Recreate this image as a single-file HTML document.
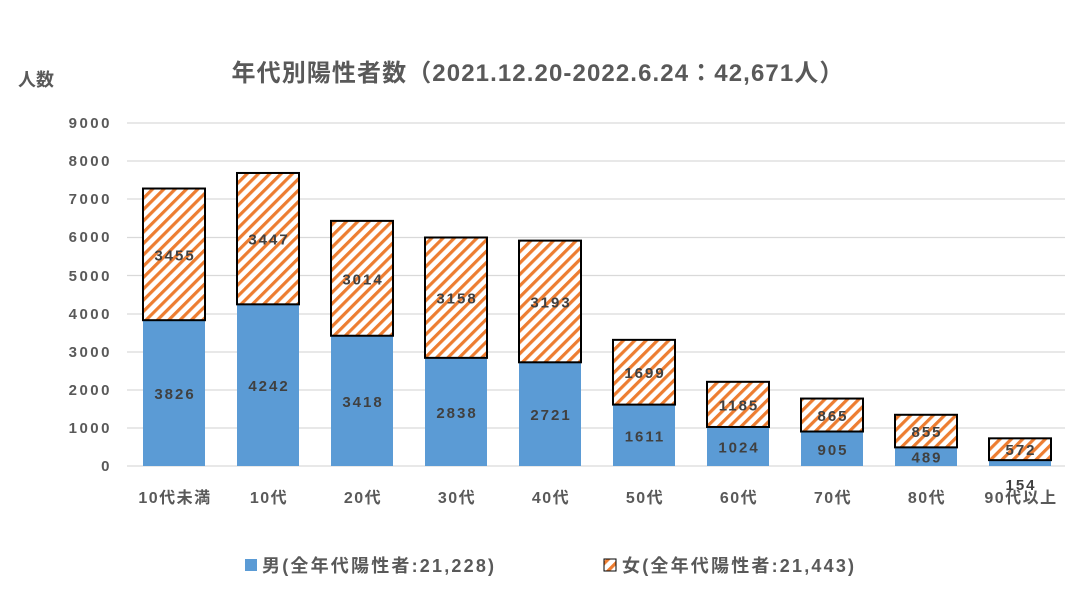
<!DOCTYPE html>
<html><head><meta charset="utf-8"><style>
body{margin:0;background:#fff;width:1082px;height:594px;overflow:hidden}
text{font-family:"Liberation Sans","Noto Sans CJK JP",sans-serif;font-weight:bold;fill:#595959}
</style></head><body>
<svg width="1082" height="594" xmlns="http://www.w3.org/2000/svg">
<defs><pattern id="h" patternUnits="userSpaceOnUse" width="8" height="8" patternTransform="rotate(45)">
<rect width="8" height="8" fill="#fff"/><rect width="3.2" height="8" fill="#ED7D31"/></pattern></defs>
<text x="538" y="81" font-size="24" letter-spacing="1.1" text-anchor="middle">年代別陽性者数（2021.12.20-2022.6.24：42,671人）</text>
<text x="18" y="86" font-size="18">人数</text>
<g stroke="#d9d9d9" stroke-width="1.3">
<line x1="127" x2="1065" y1="123" y2="123"/><line x1="127" x2="1065" y1="161" y2="161"/><line x1="127" x2="1065" y1="199" y2="199"/><line x1="127" x2="1065" y1="237.5" y2="237.5"/><line x1="127" x2="1065" y1="275.5" y2="275.5"/><line x1="127" x2="1065" y1="314" y2="314"/><line x1="127" x2="1065" y1="352" y2="352"/><line x1="127" x2="1065" y1="390" y2="390"/><line x1="127" x2="1065" y1="428" y2="428"/><line x1="127" x2="1065" y1="466" y2="466"/>
</g>
<g font-size="15" letter-spacing="2.5" text-anchor="end">
<text x="112" y="128">9000</text><text x="112" y="166">8000</text><text x="112" y="204">7000</text><text x="112" y="242">6000</text><text x="112" y="281">5000</text><text x="112" y="319">4000</text><text x="112" y="357">3000</text><text x="112" y="395">2000</text><text x="112" y="433">1000</text><text x="112" y="471">0</text>
</g>
<g id="bars"></g>
<g font-size="16" letter-spacing="1.5" text-anchor="middle">
<text x="175" y="503">10代未満</text><text x="269" y="503">10代</text><text x="363" y="503">20代</text><text x="457" y="503">30代</text><text x="551" y="503">40代</text><text x="645" y="503">50代</text><text x="739" y="503">60代</text><text x="833" y="503">70代</text><text x="927" y="503">80代</text><text x="1021" y="503">90代以上</text>
</g>
<rect x="245" y="559" width="12" height="12" fill="#5B9BD5"/>
<text x="262" y="572" font-size="18" letter-spacing="2.2">男(全年代陽性者:21,228)</text>
<rect x="604" y="559" width="12" height="12" fill="url(#h)" stroke="#000" stroke-width="1"/>
<text x="622" y="572" font-size="18" letter-spacing="2.2">女(全年代陽性者:21,443)</text>
</svg>
<script>
var d=[[3826,3455],[4242,3447],[3418,3014],[2838,3158],[2721,3193],[1611,1699],[1024,1185],[905,865],[489,855],[154,572]];
var g=document.getElementById('bars'),s='';var k=0.03811;
d.forEach(function(v,i){var cx=174+94*i,x=cx-31,ym=466-v[0]*k,yt=466-(v[0]+v[1])*k;
s+='<rect x="'+x+'" y="'+ym+'" width="62" height="'+(466-ym)+'" fill="#5B9BD5"/>';
s+='<rect x="'+x+'" y="'+yt+'" width="62" height="'+(ym-yt)+'" fill="url(#h)" stroke="#000" stroke-width="2"/>';
var ly=i==9?490:(ym+466)/2+6;
s+='<text x="'+(cx+1)+'" y="'+ly+'" font-size="15" letter-spacing="2" text-anchor="middle" style="fill:#404040">'+v[0]+'</text>';
s+='<text x="'+(cx+1)+'" y="'+((yt+ym)/2+6)+'" font-size="15" letter-spacing="2" text-anchor="middle" style="fill:#404040">'+v[1]+'</text>';});
g.innerHTML=s;
</script>
</body></html>
